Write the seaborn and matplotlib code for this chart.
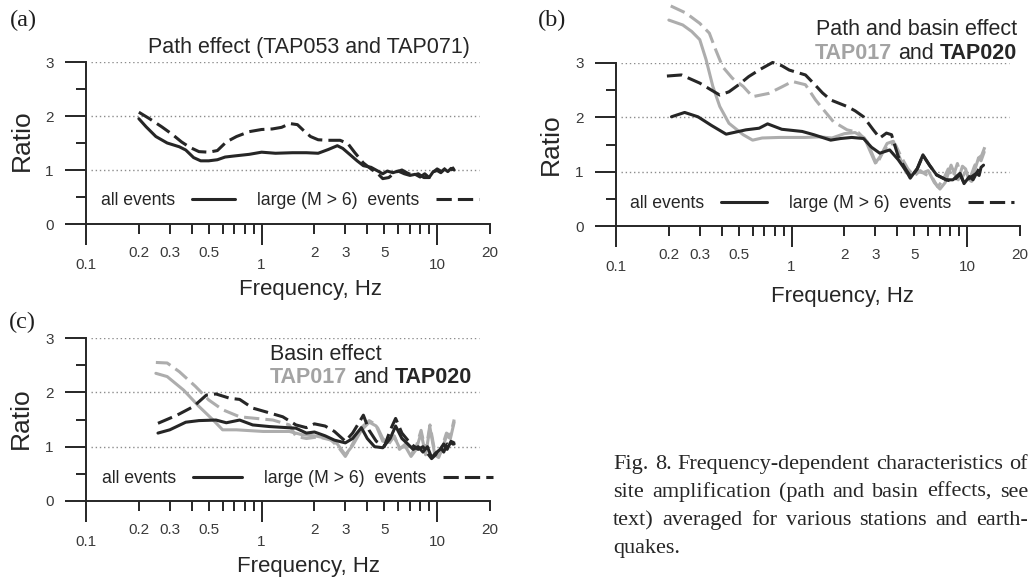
import matplotlib
matplotlib.use("Agg")
import matplotlib.pyplot as plt
from matplotlib.lines import Line2D
import seaborn as sns

# ---------------------------------------------------------------- data
# (a) path effect, TAP053 and TAP071
PA_ALL_F = [0.20, 0.22, 0.25, 0.29, 0.34, 0.37, 0.41, 0.45, 0.50, 0.56, 0.62, 0.70, 0.85, 1.0, 1.2,
            1.5, 1.8, 2.1, 2.4, 2.7, 2.9, 3.2, 3.5, 3.8, 4.2, 4.6, 4.9, 5.2, 5.6, 6.0,
            6.5, 7.0, 7.5, 8.0, 8.5, 9.0, 9.5, 10.0, 10.5, 11.0, 11.5, 12.0, 12.5]
PA_ALL_R = [1.95, 1.80, 1.62, 1.50, 1.43, 1.37, 1.23, 1.17, 1.17, 1.19, 1.24, 1.26, 1.29, 1.33, 1.31,
            1.32, 1.32, 1.31, 1.38, 1.45, 1.40, 1.28, 1.17, 1.08, 1.05, 0.98, 0.93, 0.98, 0.95, 0.98,
            0.93, 0.90, 0.92, 0.87, 0.93, 0.86, 0.97, 0.99, 0.95, 1.02, 0.97, 1.03, 1.00]
PA_BIG_F = [0.20, 0.23, 0.27, 0.31, 0.35, 0.39, 0.44, 0.50, 0.56, 0.63, 0.72, 0.85, 1.0, 1.15, 1.3,
            1.45, 1.6, 1.75, 1.9, 2.1, 2.4, 2.8, 3.1, 3.4, 3.8, 4.2, 4.6, 4.9, 5.3, 5.8,
            6.3, 6.8, 7.3, 7.8, 8.4, 9.0, 9.5, 10.0, 10.6, 11.2, 11.8, 12.5]
PA_BIG_R = [2.07, 1.95, 1.80, 1.66, 1.52, 1.42, 1.34, 1.33, 1.36, 1.52, 1.62, 1.71, 1.75, 1.76, 1.79,
            1.86, 1.84, 1.72, 1.62, 1.56, 1.55, 1.55, 1.49, 1.32, 1.13, 1.02, 0.93, 0.84, 0.86, 0.96,
            1.00, 0.94, 0.90, 0.93, 0.86, 0.86, 0.96, 1.02, 0.97, 1.03, 0.98, 1.05]

# (b) path and basin effect: TAP017 (grey) and TAP020 (black)
PB_G_ALL_F = [0.20, 0.24, 0.27, 0.30, 0.326, 0.356, 0.39, 0.44, 0.53, 0.60, 0.68, 0.85, 1.0, 1.2, 1.45,
              1.7, 2.0, 2.3, 2.6, 2.8, 3.0, 3.2, 3.5, 3.8, 4.1, 4.5, 4.8, 5.2, 5.6, 6.0,
              6.5, 7.0, 7.5, 8.1, 8.5, 8.9, 9.4, 9.8, 10.2, 10.6, 11.1, 11.6, 12.0, 12.5]
PB_G_ALL_R = [3.79, 3.70, 3.58, 3.43, 3.06, 2.57, 2.20, 1.89, 1.68, 1.58, 1.62, 1.63, 1.63, 1.63, 1.64,
              1.62, 1.70, 1.72, 1.62, 1.38, 1.16, 1.28, 1.52, 1.56, 1.28, 0.98, 0.95, 1.00, 0.98, 1.02,
              0.80, 0.68, 0.80, 1.12, 0.95, 0.85, 1.10, 1.05, 0.86, 0.82, 1.05, 1.25, 1.20, 1.36]
PB_G_BIG_F = [0.205, 0.25, 0.30, 0.34, 0.37, 0.405, 0.46, 0.53, 0.60, 0.74, 0.88, 1.01, 1.2, 1.37, 1.52,
              1.73, 2.07, 2.4, 2.7, 2.9, 3.05, 3.3, 3.6, 3.9, 4.2, 4.6, 5.0, 5.4, 5.8, 6.3,
              6.8, 7.3, 7.8, 8.3, 8.8, 9.3, 9.8, 10.4, 11.0, 11.6, 12.1, 12.6]
PB_G_BIG_R = [4.05, 3.92, 3.73, 3.55, 3.24, 2.93, 2.72, 2.57, 2.38, 2.44, 2.56, 2.66, 2.60, 2.32, 2.14,
              1.92, 1.77, 1.72, 1.55, 1.30, 1.13, 1.35, 1.52, 1.50, 1.28, 1.05, 0.92, 1.02, 0.95, 0.90,
              0.72, 0.85, 1.05, 0.90, 1.15, 0.88, 1.00, 0.88, 1.10, 1.25, 1.30, 1.45]
PB_K_ALL_F = [0.207, 0.246, 0.293, 0.35, 0.424, 0.55, 0.654, 0.73, 0.88, 1.15, 1.34, 1.67, 1.9, 2.2, 2.57,
              2.85, 3.18, 3.62, 4.05, 4.52, 4.74, 5.2, 5.6, 6.1, 6.7, 7.6, 8.3, 9.1, 9.6, 10.3,
              10.8, 11.3, 11.7, 12.0, 12.4]
PB_K_ALL_R = [2.01, 2.09, 2.01, 1.85, 1.69, 1.77, 1.80, 1.88, 1.78, 1.74, 1.68, 1.58, 1.61, 1.63, 1.61,
              1.45, 1.34, 1.40, 1.22, 1.00, 0.88, 1.06, 1.31, 1.12, 0.94, 0.85, 0.85, 0.97, 0.78, 0.91,
              0.85, 0.97, 0.93, 1.08, 1.12]
PB_K_BIG_F = [0.195, 0.236, 0.30, 0.35, 0.39, 0.44, 0.50, 0.57, 0.66, 0.78, 0.88, 0.97, 1.2, 1.34, 1.5,
              1.67, 2.07, 2.3, 2.57, 2.92, 3.18, 3.47, 3.71, 4.05, 4.5, 4.8, 5.2, 5.6, 6.1, 6.7,
              7.6, 8.3, 9.1, 9.6, 10.3, 11.3, 12.0]
PB_K_BIG_R = [2.76, 2.78, 2.63, 2.50, 2.41, 2.47, 2.60, 2.75, 2.88, 3.01, 2.95, 2.87, 2.78, 2.62, 2.45,
              2.32, 2.20, 2.12, 2.01, 1.77, 1.62, 1.71, 1.68, 1.28, 1.03, 0.90, 1.05, 1.30, 1.12, 0.94,
              0.85, 0.82, 0.95, 0.80, 0.88, 0.97, 1.12]

# (c) basin effect: TAP017 (grey) and TAP020 (black)
PC_G_ALL_F = [0.25, 0.29, 0.36, 0.44, 0.53, 0.60, 0.72, 1.02, 1.44, 1.7, 2.0, 2.4, 2.7, 3.0, 3.3,
              3.7, 4.1, 4.5, 4.9, 5.3, 5.7, 6.1, 6.6, 7.1, 7.6, 8.1, 8.6, 9.1, 9.7, 10.2,
              10.8, 11.3, 11.9, 12.5]
PC_G_ALL_R = [2.35, 2.29, 2.04, 1.74, 1.49, 1.31, 1.31, 1.28, 1.28, 1.22, 1.20, 1.15, 1.05, 0.85, 1.02,
              1.30, 1.45, 1.38, 1.10, 1.08, 1.18, 0.98, 1.00, 0.82, 0.95, 1.25, 0.85, 1.35, 0.85, 0.80,
              1.00, 1.20, 1.15, 1.45]
PC_G_BIG_F = [0.25, 0.29, 0.34, 0.42, 0.50, 0.60, 0.75, 0.93, 1.16, 1.44, 1.57, 1.8, 2.1, 2.5, 2.8,
              3.0, 3.3, 3.7, 4.1, 4.5, 4.9, 5.3, 5.7, 6.1, 6.6, 7.1, 7.6, 8.1, 8.6, 9.1,
              9.7, 10.2, 10.8, 11.3, 11.9, 12.5]
PC_G_BIG_R = [2.55, 2.54, 2.38, 2.11, 1.86, 1.68, 1.55, 1.52, 1.49, 1.40, 1.19, 1.15, 1.18, 1.12, 0.95,
              0.82, 1.05, 1.35, 1.48, 1.40, 1.15, 1.05, 1.20, 0.95, 1.05, 0.85, 1.00, 1.30, 0.90, 1.40,
              0.90, 0.82, 1.05, 1.25, 1.20, 1.50]
PC_K_ALL_F = [0.257, 0.30, 0.37, 0.44, 0.55, 0.63, 0.75, 0.89, 1.11, 1.57, 1.8, 2.0, 2.3, 2.6, 3.0,
              3.3, 3.7, 4.0, 4.4, 4.9, 5.4, 5.8, 6.3, 6.8, 7.3, 7.8, 8.3, 8.8, 9.3, 9.8,
              10.4, 10.9, 11.4, 12.0, 12.5]
PC_K_ALL_R = [1.25, 1.31, 1.45, 1.48, 1.49, 1.44, 1.49, 1.40, 1.37, 1.34, 1.25, 1.27, 1.20, 1.12, 1.07,
              1.15, 1.35, 1.15, 1.00, 0.98, 1.15, 1.38, 1.15, 1.05, 0.95, 1.00, 0.90, 1.00, 0.80, 0.88,
              0.95, 1.05, 0.95, 1.10, 1.05]
PC_K_BIG_F = [0.257, 0.33, 0.41, 0.485, 0.55, 0.66, 0.75, 0.89, 1.06, 1.32, 1.57, 1.8, 2.0, 2.3, 2.6,
              3.0, 3.3, 3.6, 3.8, 4.1, 4.5, 5.0, 5.4, 5.8, 6.3, 6.8, 7.3, 7.8, 8.3, 8.8,
              9.3, 9.8, 10.4, 10.9, 11.4, 12.0, 12.5]
PC_K_BIG_R = [1.43, 1.58, 1.74, 1.95, 1.97, 1.89, 1.87, 1.71, 1.64, 1.55, 1.40, 1.35, 1.42, 1.38, 1.28,
              1.10, 1.25, 1.45, 1.58, 1.30, 1.10, 1.00, 1.30, 1.52, 1.25, 1.12, 1.02, 0.95, 1.00, 0.88,
              0.78, 0.85, 1.00, 0.90, 1.05, 1.00, 1.10]

# axis ticks
MAJOR_TICKS = [0.1, 1, 10]
MAJOR_LABELS = ["0.1", "1", "10"]
MINOR_TICKS = [0.2, 0.3, 0.4, 0.5, 0.6, 0.7, 0.8, 0.9, 2, 3, 4, 5, 6, 7, 8, 9, 20]
MINOR_LABELS = ["0.2", "0.3", "", "0.5", "", "", "", "", "2", "3", "", "5", "", "", "", "", "20"]
Y_MAJOR = [0, 1, 2, 3]
Y_MINOR = [0.5, 1.5, 2.5]
LEGEND_LABELS = ["all events", "large (M > 6)  events"]

CAPTION = ["Fig. 8. Frequency-dependent characteristics of",
           "site amplification (path and basin effects, see",
           "text) averaged for various stations and earth-",
           "quakes."]

# ---------------------------------------------------------------- style
sns.set_style("ticks")
plt.rcParams["font.family"] = ["Liberation Sans", "DejaVu Sans"]
SERIF = ["Liberation Serif", "DejaVu Serif"]

INK = "#262626"
TICKTXT = "#3a3a3a"
GREY = "#adadad"
GREY_TXT = "#a3a3a3"
LW = 2.2
DASH = [5, 2]
TICK_FS = 11

W, H = 1029, 579
fig = plt.figure(figsize=(W / 100, H / 100), dpi=100)
fig.patch.set_facecolor("white")
renderer = fig.canvas.get_renderer()


def px_axes(left, top, right, bottom):
    return fig.add_axes([left / W, 1 - bottom / H, (right - left) / W, (bottom - top) / H])


def style_axes(ax, legend_xy, handlelength, xlabel_xy, ylabel_xy):
    ax.set_xscale("log")
    ax.set_xlim(0.1, 20)
    ax.set_ylim(0, 3)
    ax.set_facecolor("none")
    for s in ("top", "right"):
        ax.spines[s].set_visible(False)
    for s in ("left", "bottom"):
        ax.spines[s].set_linewidth(1.4)
        ax.spines[s].set_color(INK)
    ax.set_xticks(MAJOR_TICKS, MAJOR_LABELS)
    ax.set_xticks(MINOR_TICKS, MINOR_LABELS, minor=True)
    ax.set_yticks(Y_MAJOR, [str(v) for v in Y_MAJOR])
    ax.set_yticks(Y_MINOR, minor=True)
    ax.tick_params(axis="x", which="major", direction="out", length=15, width=1.4, pad=9.5,
                   labelsize=TICK_FS, color=INK, labelcolor=TICKTXT)
    ax.tick_params(axis="x", which="minor", direction="out", length=7, width=1.4, pad=8.8,
                   labelsize=TICK_FS, color=INK, labelcolor=TICKTXT)
    ax.tick_params(axis="y", which="major", direction="out", length=15, width=1.4, pad=8.4,
                   labelsize=TICK_FS, color=INK, labelcolor=TICKTXT)
    ax.tick_params(axis="y", which="minor", direction="out", length=7, width=1.4, color=INK)
    ax.grid(False)
    for y in (1, 2, 3):
        ax.axhline(y, xmin=0.012, xmax=0.972, color="#8c8c8c", lw=1.0,
                   ls=(0, (1, 2)), zorder=0)
    ax.set_xlabel("Frequency, Hz", fontsize=16, color=INK, va="center")
    ax.xaxis.set_label_coords(*xlabel_xy)
    ax.set_ylabel("Ratio", fontsize=19, color=INK, va="center")
    ax.yaxis.set_label_coords(*ylabel_xy)
    handles = [Line2D([], [], color=INK, lw=LW),
               Line2D([], [], color=INK, lw=LW, dashes=DASH)]
    ax.legend(handles, LEGEND_LABELS, ncol=2, markerfirst=False, frameon=False,
              loc="center left", bbox_to_anchor=legend_xy, borderpad=0, borderaxespad=0,
              handlelength=handlelength, handletextpad=0.95, columnspacing=1.25,
              fontsize=12.7, labelcolor=INK)


def curve(ax, f, r, color, dashed=False):
    sns.lineplot(x=f, y=r, ax=ax, color=color, lw=LW, estimator=None, sort=False,
                 legend=False)
    ln = ax.lines[-1]
    ln.set_clip_on(False)
    if dashed:
        ln.set_dashes(DASH)


def text_width(s, **kw):
    t = fig.text(0, 0, s, **kw)
    w = t.get_window_extent(renderer).width
    t.remove()
    return w


def put_runs(x_px, base_px, runs, size, ha="left"):
    """Write coloured word runs on one baseline, separated by single spaces."""
    space = text_width("a a", fontsize=size) - text_width("aa", fontsize=size)
    widths = [text_width(t, fontsize=size, weight=w) for t, _, w in runs]
    total = sum(widths) + space * (len(runs) - 1)
    x = x_px - total if ha == "right" else x_px
    for (t, c, w), wd in zip(runs, widths):
        fig.text(x / W, 1 - base_px / H, t, fontsize=size, color=c, weight=w,
                 ha="left", va="baseline")
        x += wd + space


def justified(lines, left_px, right_px, baselines, size):
    for i, (line, base) in enumerate(zip(lines, baselines)):
        words = line.split(" ")
        widths = [text_width(wd, fontsize=size, family=SERIF) for wd in words]
        last = i == len(lines) - 1
        if last or len(words) == 1:
            gap = text_width("a a", fontsize=size, family=SERIF) - text_width("aa", fontsize=size, family=SERIF)
        else:
            gap = (right_px - left_px - sum(widths)) / (len(words) - 1)
        x = left_px
        for wd, w in zip(words, widths):
            fig.text(x / W, 1 - base / H, wd, fontsize=size, color="#262626",
                     family=SERIF, ha="left", va="baseline")
            x += w + gap


# ---------------------------------------------------------------- panel (a)
ax_a = px_axes(86, 62, 490, 224)
style_axes(ax_a, (0.037, 0.147), 2.45, (0.555, -0.405), (-0.158, 0.52))
curve(ax_a, PA_ALL_F, PA_ALL_R, INK)
curve(ax_a, PA_BIG_F, PA_BIG_R, INK, dashed=True)

# ---------------------------------------------------------------- panel (b)
ax_b = px_axes(616, 63, 1020, 226)
style_axes(ax_b, (0.035, 0.135), 2.6, (0.56, -0.43), (-0.161, 0.50))
curve(ax_b, PB_G_ALL_F, PB_G_ALL_R, GREY)
curve(ax_b, PB_G_BIG_F, PB_G_BIG_R, GREY, dashed=True)
curve(ax_b, PB_K_ALL_F, PB_K_ALL_R, INK)
curve(ax_b, PB_K_BIG_F, PB_K_BIG_R, INK, dashed=True)

# ---------------------------------------------------------------- panel (c)
ax_c = px_axes(86, 338, 490, 501)
style_axes(ax_c, (0.04, 0.135), 2.8, (0.55, -0.40), (-0.161, 0.51))
curve(ax_c, PC_G_ALL_F, PC_G_ALL_R, GREY)
curve(ax_c, PC_G_BIG_F, PC_G_BIG_R, GREY, dashed=True)
curve(ax_c, PC_K_ALL_F, PC_K_ALL_R, INK)
curve(ax_c, PC_K_BIG_F, PC_K_BIG_R, INK, dashed=True)

# ---------------------------------------------------------------- headings
TS = 15.5
put_runs(148, 53, [("Path effect (TAP053 and TAP071)", INK, "normal")], TS)
put_runs(1017, 35, [("Path and basin effect", INK, "normal")], TS, ha="right")
put_runs(1017, 59, [("TAP017", GREY_TXT, "bold"), ("and", INK, "normal"),
                    ("TAP020", INK, "bold")], TS, ha="right")
put_runs(270, 360, [("Basin effect", INK, "normal")], TS)
put_runs(270, 383, [("TAP017", GREY_TXT, "bold"), ("and", INK, "normal"),
                    ("TAP020", INK, "bold")], TS)

for lbl, (x, y) in zip(["(a)", "(b)", "(c)"], [(23, 20), (552, 20), (22, 322)]):
    fig.text(x / W, 1 - y / H, lbl, fontsize=17.5, family=SERIF, color="#1e1e1e",
             ha="center", va="center")

justified(CAPTION, 613, 1028, [469, 497, 525, 553], 16)

fig.savefig("out.png", dpi=100)
